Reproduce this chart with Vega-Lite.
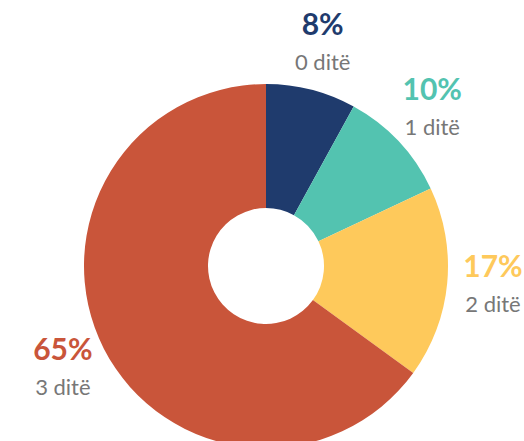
{
  "$schema": "https://vega.github.io/schema/vega-lite/v6.json",
  "autosize": "none",
  "padding": 0,
  "width": 532,
  "height": 532,
  "background": "white",
  "view": {"stroke": null},
  "data": {"values": [
    {"days": "0 ditë", "value": 8, "pct": "8%"},
    {"days": "1 ditë", "value": 10, "pct": "10%"},
    {"days": "2 ditë", "value": 17, "pct": "17%"},
    {"days": "3 ditë", "value": 65, "pct": "65%"}
  ]},
  "encoding": {
    "theta": {"field": "value", "type": "quantitative", "stack": true},
    "order": {"field": "days", "type": "nominal"}
  },
  "layer": [
    {
      "mark": {"type": "arc", "outerRadius": 182, "innerRadius": 58},
      "encoding": {
        "color": {"field": "days", "type": "nominal", "legend": null,
          "scale": {"domain": ["0 ditë", "1 ditë", "2 ditë", "3 ditë"], "range": ["#1f3b6d", "#53c3b0", "#fec95b", "#c9553a"]}}
      }
    },
    {
      "mark": {"type": "text", "radius": 228, "dy": -19, "font": "Lato", "fontSize": 30, "fontWeight": "bold"},
      "encoding": {
        "text": {"field": "pct"},
        "color": {"field": "days", "type": "nominal", "legend": null}
      }
    },
    {
      "mark": {"type": "text", "radius": 228, "dy": 18, "font": "Lato", "fontSize": 22, "color": "#777777"},
      "encoding": {
        "text": {"field": "days"},
        "detail": {"field": "days", "type": "nominal"}
      }
    }
  ]
}
